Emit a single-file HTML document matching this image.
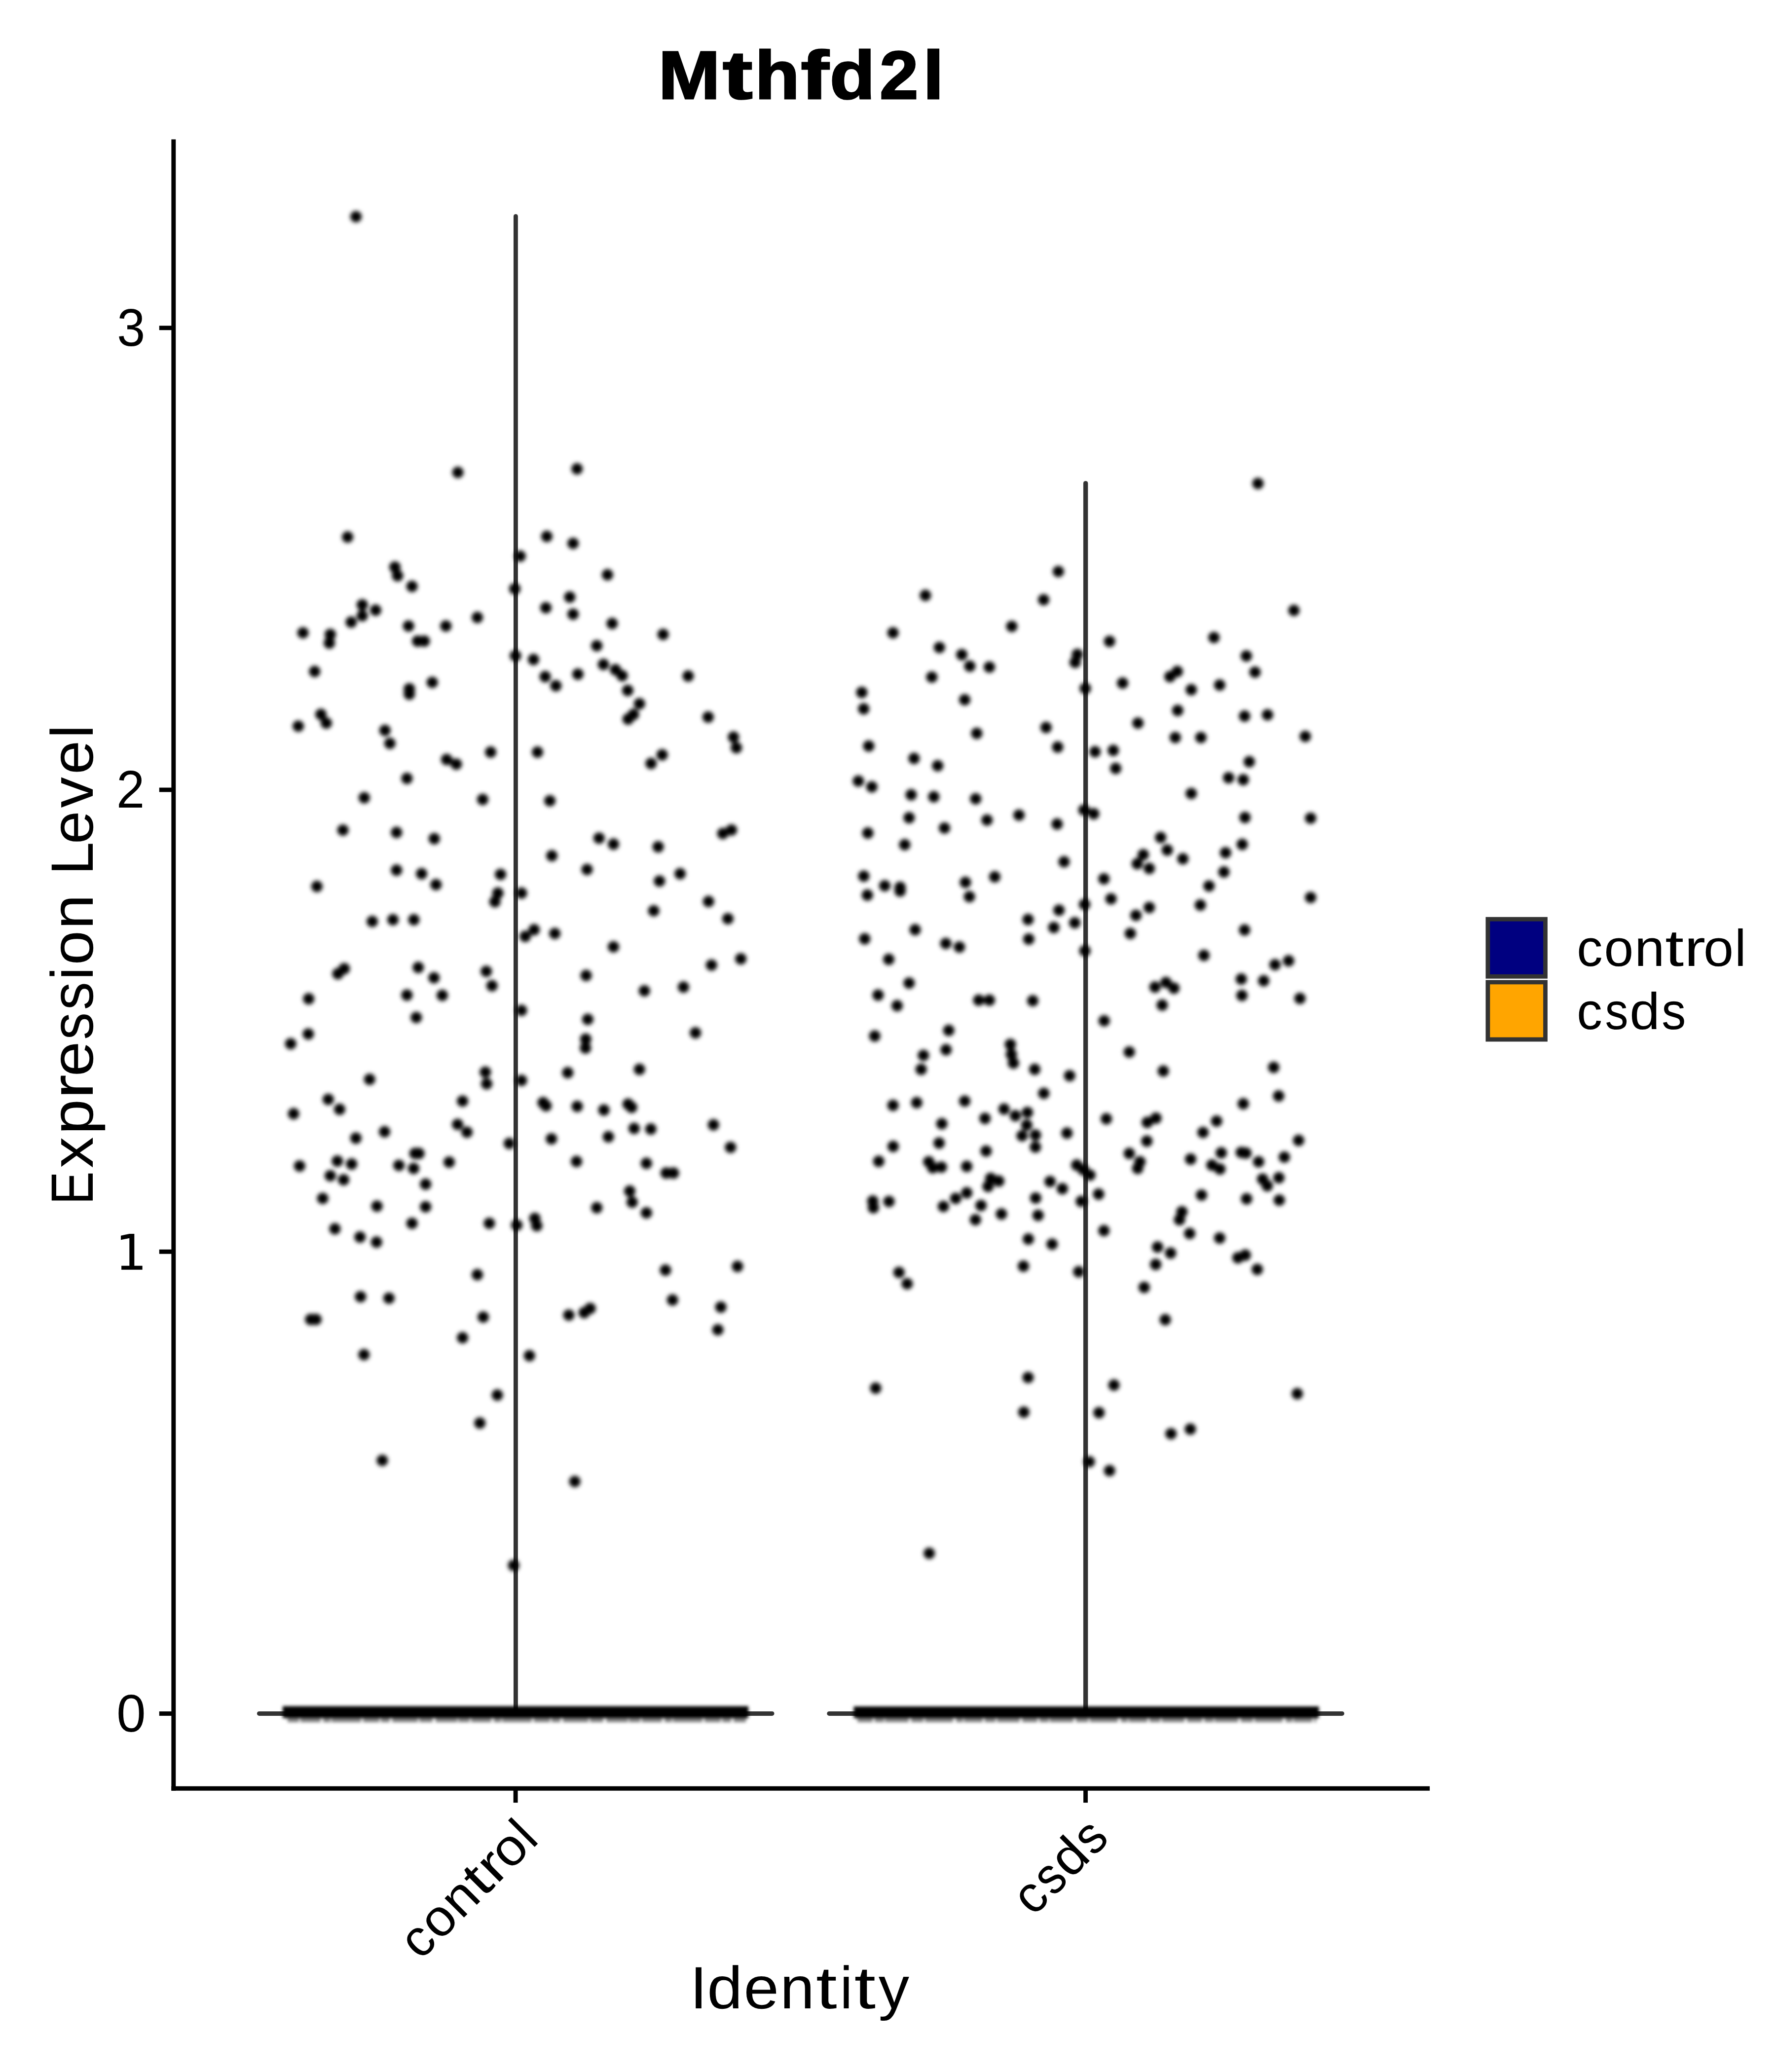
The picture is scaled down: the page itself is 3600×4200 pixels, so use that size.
<!DOCTYPE html>
<html><head><meta charset="utf-8"><title>Mthfd2l</title>
<style>
html,body{margin:0;padding:0;background:#fff;}
body{width:3600px;height:4200px;overflow:hidden;}
svg{display:block;}
text{font-family:"Liberation Sans",sans-serif;fill:#000;text-rendering:geometricPrecision;}
#title text{vector-effect:non-scaling-stroke;}
</style></head><body>
<svg width="3600" height="4200" viewBox="0 0 3600 4200">
<defs><filter id="b" filterUnits="userSpaceOnUse" x="0" y="0" width="3600" height="4200"><feGaussianBlur stdDeviation="4.2"/></filter>
<filter id="b2" filterUnits="userSpaceOnUse" x="0" y="3400" width="3600" height="150"><feGaussianBlur stdDeviation="3.0"/></filter></defs>
<rect width="3600" height="4200" fill="#fff"/>
<g id="title" font-size="138" font-weight="bold" stroke="#000" stroke-width="3"><text transform="translate(1334.53,199.5) scale(1.0913,1)">M</text><text transform="translate(1465.08,199.5) scale(1.3173,1)">t</text><text transform="translate(1530.15,199.5) scale(1.0741,1)">h</text><text transform="translate(1623.60,199.5) scale(1.2310,1)">f</text><text transform="translate(1682.05,199.5) scale(1.0872,1)">d</text><text transform="translate(1783.01,199.5) scale(1.0220,1)">2</text><text transform="translate(1870.91,199.5) scale(1.0985,1)">l</text></g>
<g fill="none" stroke="#333333" stroke-linecap="round" stroke-linejoin="round">
<path d="M525.4 3473.4H1565" stroke-width="9"/><path d="M1045.4 3473.4V438.4" stroke-width="8.9"/>
<path d="M1680.8 3473.4H2720.4" stroke-width="9"/><path d="M2200.6 3473.4V979.6" stroke-width="9.4"/>
</g>
<g filter="url(#b2)" fill="#000">
<rect x="573" y="3458.5" width="944" height="24"/>
<rect x="1730.5" y="3459" width="943" height="23.5"/>
<path d="M583 3487H1512" stroke="#000" stroke-opacity=".5" stroke-width="8" fill="none" stroke-dasharray="23 3 41 5 15 2 60 4 33 3 18 5 52 3 27 6 44 2"/>
<path d="M1738 3487H2668" stroke="#000" stroke-opacity=".5" stroke-width="8" fill="none" stroke-dasharray="31 4 19 2 48 5 25 3 57 6 14 2 38 4 22 3 46 5"/>
</g>
<g id="dots" filter="url(#b)" fill="#000">
<circle cx="721.6" cy="439.2" r="11.5"/><circle cx="928.1" cy="957.6" r="11.5"/><circle cx="704.6" cy="1088.6" r="11.5"/><circle cx="800.5" cy="1149.5" r="11.5"/><circle cx="805.9" cy="1167" r="11.5"/><circle cx="835.1" cy="1188.6" r="11.5"/><circle cx="734.3" cy="1225.9" r="11.5"/><circle cx="734.3" cy="1248.1" r="11.5"/>
<circle cx="761.4" cy="1236.8" r="11.5"/><circle cx="711.9" cy="1261.1" r="11.5"/><circle cx="614.1" cy="1282.7" r="11.5"/><circle cx="669.5" cy="1285.9" r="11.5"/><circle cx="667.6" cy="1303.5" r="11.5"/><circle cx="828.1" cy="1268.9" r="11.5"/><circle cx="903.8" cy="1268.9" r="11.5"/><circle cx="967.6" cy="1251.6" r="11.5"/>
<circle cx="846.5" cy="1299.5" r="11.5"/><circle cx="860" cy="1299.5" r="11.5"/><circle cx="637.8" cy="1361.1" r="11.5"/><circle cx="876.2" cy="1383.2" r="11.5"/><circle cx="829.7" cy="1396.2" r="11.5"/><circle cx="829.7" cy="1407" r="11.5"/><circle cx="650.5" cy="1448.1" r="11.5"/><circle cx="661.4" cy="1465.7" r="11.5"/>
<circle cx="604.6" cy="1471.9" r="11.5"/><circle cx="780.3" cy="1480.5" r="11.5"/><circle cx="1169.7" cy="950.3" r="11.5"/><circle cx="1108.4" cy="1087.3" r="11.5"/><circle cx="1161.6" cy="1101.4" r="11.5"/><circle cx="1054.3" cy="1127.3" r="11.5"/><circle cx="1231.4" cy="1165.1" r="11.5"/><circle cx="1043.5" cy="1193.5" r="11.5"/>
<circle cx="1154.9" cy="1210.3" r="11.5"/><circle cx="1106.5" cy="1231.9" r="11.5"/><circle cx="1161.6" cy="1244.9" r="11.5"/><circle cx="1240.8" cy="1263.8" r="11.5"/><circle cx="1344.1" cy="1285.9" r="11.5"/><circle cx="1209.7" cy="1308.9" r="11.5"/><circle cx="1044.9" cy="1329.2" r="11.5"/><circle cx="1081.4" cy="1336.8" r="11.5"/>
<circle cx="1223.2" cy="1346.8" r="11.5"/><circle cx="1247.6" cy="1357.6" r="11.5"/><circle cx="1261.1" cy="1369.7" r="11.5"/><circle cx="1171.4" cy="1366.5" r="11.5"/><circle cx="1105.1" cy="1371.6" r="11.5"/><circle cx="1126.8" cy="1390" r="11.5"/><circle cx="1394.9" cy="1370.3" r="11.5"/><circle cx="1272.4" cy="1399.5" r="11.5"/>
<circle cx="1296.2" cy="1426.5" r="11.5"/><circle cx="1284.1" cy="1448.1" r="11.5"/><circle cx="1273.2" cy="1457.6" r="11.5"/><circle cx="1435.4" cy="1453.5" r="11.5"/><circle cx="1486.8" cy="1494.1" r="11.5"/><circle cx="790.3" cy="1506.8" r="11.5"/><circle cx="994.6" cy="1524.6" r="11.5"/><circle cx="905.4" cy="1539.5" r="11.5"/>
<circle cx="924.9" cy="1548.9" r="11.5"/><circle cx="824.9" cy="1577.8" r="11.5"/><circle cx="738.4" cy="1617" r="11.5"/><circle cx="978.4" cy="1620.5" r="11.5"/><circle cx="695.1" cy="1682.7" r="11.5"/><circle cx="803.8" cy="1687.3" r="11.5"/><circle cx="880.3" cy="1700" r="11.5"/><circle cx="803.8" cy="1763.8" r="11.5"/>
<circle cx="854.6" cy="1771.1" r="11.5"/><circle cx="883.8" cy="1793.2" r="11.5"/><circle cx="1014.6" cy="1772.4" r="11.5"/><circle cx="642.4" cy="1796.8" r="11.5"/><circle cx="1009.2" cy="1810.3" r="11.5"/><circle cx="1003.2" cy="1827.8" r="11.5"/><circle cx="754.6" cy="1867.8" r="11.5"/><circle cx="796.5" cy="1864.3" r="11.5"/>
<circle cx="838.9" cy="1864.3" r="11.5"/><circle cx="697.8" cy="1963.5" r="11.5"/><circle cx="684.9" cy="1973.8" r="11.5"/><circle cx="847.8" cy="1961.1" r="11.5"/><circle cx="879.7" cy="1981.9" r="11.5"/><circle cx="985.7" cy="1968.9" r="11.5"/><circle cx="997.3" cy="1998.1" r="11.5"/><circle cx="824.9" cy="2017" r="11.5"/>
<circle cx="896.5" cy="2017.6" r="11.5"/><circle cx="625.7" cy="2024.6" r="11.5"/><circle cx="1492.7" cy="1515.7" r="11.5"/><circle cx="1089.5" cy="1524.6" r="11.5"/><circle cx="1342.2" cy="1530" r="11.5"/><circle cx="1319.7" cy="1547.6" r="11.5"/><circle cx="1114.6" cy="1623.2" r="11.5"/><circle cx="1482.7" cy="1682.4" r="11.5"/>
<circle cx="1465.1" cy="1689.5" r="11.5"/><circle cx="1214.3" cy="1698.9" r="11.5"/><circle cx="1243.5" cy="1711.1" r="11.5"/><circle cx="1334.1" cy="1716.5" r="11.5"/><circle cx="1118.6" cy="1734.6" r="11.5"/><circle cx="1190" cy="1762.4" r="11.5"/><circle cx="1378.6" cy="1771.1" r="11.5"/><circle cx="1336.8" cy="1785.9" r="11.5"/>
<circle cx="1057" cy="1810.3" r="11.5"/><circle cx="1436.2" cy="1827.3" r="11.5"/><circle cx="1325.1" cy="1846.2" r="11.5"/><circle cx="1475.4" cy="1862.2" r="11.5"/><circle cx="1082.7" cy="1884.6" r="11.5"/><circle cx="1064.6" cy="1898.1" r="11.5"/><circle cx="1124.6" cy="1892.2" r="11.5"/><circle cx="1243.5" cy="1919.2" r="11.5"/>
<circle cx="1501.6" cy="1943.5" r="11.5"/><circle cx="1442.2" cy="1956.2" r="11.5"/><circle cx="1188.1" cy="1977.3" r="11.5"/><circle cx="1385.4" cy="2000.8" r="11.5"/><circle cx="1306.2" cy="2008.4" r="11.5"/><circle cx="843.8" cy="2062.4" r="11.5"/><circle cx="624.9" cy="2095.9" r="11.5"/><circle cx="589.2" cy="2115.7" r="11.5"/>
<circle cx="983.8" cy="2173.2" r="11.5"/><circle cx="986.5" cy="2196.8" r="11.5"/><circle cx="749.2" cy="2187.8" r="11.5"/><circle cx="665.4" cy="2228.4" r="11.5"/><circle cx="688.4" cy="2248.6" r="11.5"/><circle cx="937.6" cy="2231.9" r="11.5"/><circle cx="595.1" cy="2257.6" r="11.5"/><circle cx="927.6" cy="2279.2" r="11.5"/>
<circle cx="946.5" cy="2294.9" r="11.5"/><circle cx="779.5" cy="2294.1" r="11.5"/><circle cx="721.4" cy="2307" r="11.5"/><circle cx="1032.4" cy="2317.8" r="11.5"/><circle cx="841.1" cy="2338.1" r="11.5"/><circle cx="849.2" cy="2338.1" r="11.5"/><circle cx="910.5" cy="2355.7" r="11.5"/><circle cx="683.8" cy="2353.5" r="11.5"/>
<circle cx="712.7" cy="2359.5" r="11.5"/><circle cx="607.3" cy="2363.5" r="11.5"/><circle cx="808.6" cy="2362.2" r="11.5"/><circle cx="838.4" cy="2368.4" r="11.5"/><circle cx="669.5" cy="2383.2" r="11.5"/><circle cx="696.5" cy="2391.4" r="11.5"/><circle cx="862.7" cy="2400.3" r="11.5"/><circle cx="654.1" cy="2429.2" r="11.5"/>
<circle cx="764.1" cy="2444.9" r="11.5"/><circle cx="862.7" cy="2446.2" r="11.5"/><circle cx="835.1" cy="2479.7" r="11.5"/><circle cx="991.9" cy="2479.7" r="11.5"/><circle cx="678.9" cy="2490.8" r="11.5"/><circle cx="729.7" cy="2507.6" r="11.5"/><circle cx="763.2" cy="2517.8" r="11.5"/><circle cx="967.6" cy="2583.8" r="11.5"/>
<circle cx="1057" cy="2048.1" r="11.5"/><circle cx="1191.4" cy="2066.2" r="11.5"/><circle cx="1409.7" cy="2093.5" r="11.5"/><circle cx="1187.3" cy="2106.2" r="11.5"/><circle cx="1186.8" cy="2124.3" r="11.5"/><circle cx="1296.2" cy="2167.6" r="11.5"/><circle cx="1150.8" cy="2174.3" r="11.5"/><circle cx="1057" cy="2190" r="11.5"/>
<circle cx="1100.8" cy="2235.1" r="11.5"/><circle cx="1106.8" cy="2241.4" r="11.5"/><circle cx="1170" cy="2242.7" r="11.5"/><circle cx="1224.1" cy="2250" r="11.5"/><circle cx="1273.2" cy="2238.1" r="11.5"/><circle cx="1280.3" cy="2244.6" r="11.5"/><circle cx="1285.4" cy="2287.3" r="11.5"/><circle cx="1319.2" cy="2288.6" r="11.5"/>
<circle cx="1446.2" cy="2280" r="11.5"/><circle cx="1117.8" cy="2308.4" r="11.5"/><circle cx="1233.2" cy="2304.3" r="11.5"/><circle cx="1480.8" cy="2325.7" r="11.5"/><circle cx="1168.6" cy="2354.3" r="11.5"/><circle cx="1310.3" cy="2358.1" r="11.5"/><circle cx="1350.3" cy="2377.8" r="11.5"/><circle cx="1365.1" cy="2377.8" r="11.5"/>
<circle cx="1276.5" cy="2414.3" r="11.5"/><circle cx="1281.4" cy="2436.8" r="11.5"/><circle cx="1209.7" cy="2448.1" r="11.5"/><circle cx="1310.3" cy="2458.4" r="11.5"/><circle cx="1084.1" cy="2469.7" r="11.5"/><circle cx="1088.1" cy="2484.6" r="11.5"/><circle cx="1047.6" cy="2483.2" r="11.5"/><circle cx="1348.9" cy="2574.6" r="11.5"/>
<circle cx="1494.9" cy="2567" r="11.5"/><circle cx="730.8" cy="2628.4" r="11.5"/><circle cx="788.4" cy="2631.4" r="11.5"/><circle cx="629.7" cy="2674.6" r="11.5"/><circle cx="640.5" cy="2674.6" r="11.5"/><circle cx="979.5" cy="2669.7" r="11.5"/><circle cx="937.6" cy="2711.6" r="11.5"/><circle cx="737.8" cy="2745.9" r="11.5"/>
<circle cx="1008.1" cy="2827.8" r="11.5"/><circle cx="972.7" cy="2884.6" r="11.5"/><circle cx="774.9" cy="2960.3" r="11.5"/><circle cx="1363.2" cy="2635.1" r="11.5"/><circle cx="1461.1" cy="2649.5" r="11.5"/><circle cx="1153" cy="2665.7" r="11.5"/><circle cx="1196.2" cy="2652.2" r="11.5"/><circle cx="1184.1" cy="2660.8" r="11.5"/>
<circle cx="1455.1" cy="2695.4" r="11.5"/><circle cx="1073.2" cy="2748.1" r="11.5"/><circle cx="1165.1" cy="3003" r="11.5"/><circle cx="1041.1" cy="3173" r="11.5"/><circle cx="2145.3" cy="1158.4" r="11.5"/><circle cx="1875.8" cy="1206.8" r="11.5"/><circle cx="2115.5" cy="1215.7" r="11.5"/><circle cx="2050.9" cy="1269.7" r="11.5"/>
<circle cx="1810.1" cy="1282.7" r="11.5"/><circle cx="1904.2" cy="1312.4" r="11.5"/><circle cx="1949.6" cy="1327" r="11.5"/><circle cx="1965.8" cy="1350.3" r="11.5"/><circle cx="2005.5" cy="1352.2" r="11.5"/><circle cx="2183.9" cy="1326.5" r="11.5"/><circle cx="2179.3" cy="1342.7" r="11.5"/><circle cx="1888.8" cy="1372.4" r="11.5"/>
<circle cx="1746.9" cy="1403.5" r="11.5"/><circle cx="1955.5" cy="1418.4" r="11.5"/><circle cx="1750.7" cy="1436.8" r="11.5"/><circle cx="2120.4" cy="1474.6" r="11.5"/><circle cx="1979.9" cy="1486.5" r="11.5"/><circle cx="2549.9" cy="980" r="11.5"/><circle cx="2622.8" cy="1237.3" r="11.5"/><circle cx="2460.7" cy="1292.2" r="11.5"/>
<circle cx="2249.1" cy="1300" r="11.5"/><circle cx="2526.4" cy="1329.7" r="11.5"/><circle cx="2386.4" cy="1361.1" r="11.5"/><circle cx="2371.5" cy="1371.6" r="11.5"/><circle cx="2543.9" cy="1362.4" r="11.5"/><circle cx="2275.5" cy="1384.6" r="11.5"/><circle cx="2199.9" cy="1395.4" r="11.5"/><circle cx="2472.3" cy="1388.6" r="11.5"/>
<circle cx="2414.7" cy="1398.1" r="11.5"/><circle cx="2387.2" cy="1440" r="11.5"/><circle cx="2522.8" cy="1451.6" r="11.5"/><circle cx="2569.3" cy="1448.9" r="11.5"/><circle cx="2306.6" cy="1465.7" r="11.5"/><circle cx="1760.9" cy="1512.2" r="11.5"/><circle cx="2143.9" cy="1514.3" r="11.5"/><circle cx="1852.8" cy="1537.3" r="11.5"/>
<circle cx="1900.7" cy="1552.2" r="11.5"/><circle cx="1739.9" cy="1583.2" r="11.5"/><circle cx="1767.2" cy="1594.9" r="11.5"/><circle cx="1846.9" cy="1611.1" r="11.5"/><circle cx="1892.8" cy="1615.1" r="11.5"/><circle cx="1977.7" cy="1619.2" r="11.5"/><circle cx="1842.8" cy="1657.6" r="11.5"/><circle cx="2065.5" cy="1652.2" r="11.5"/>
<circle cx="2000.7" cy="1662.2" r="11.5"/><circle cx="2142.8" cy="1670.3" r="11.5"/><circle cx="1914.5" cy="1678.4" r="11.5"/><circle cx="1759.1" cy="1688.6" r="11.5"/><circle cx="1833.9" cy="1712.2" r="11.5"/><circle cx="2156.9" cy="1746.8" r="11.5"/><circle cx="1750.9" cy="1775.9" r="11.5"/><circle cx="2016.4" cy="1777.3" r="11.5"/>
<circle cx="1956.9" cy="1788.6" r="11.5"/><circle cx="1793.4" cy="1795.4" r="11.5"/><circle cx="1824.5" cy="1798.6" r="11.5"/><circle cx="1824.5" cy="1806.2" r="11.5"/><circle cx="1758.2" cy="1814.3" r="11.5"/><circle cx="1965" cy="1817.6" r="11.5"/><circle cx="2146.6" cy="1844.9" r="11.5"/><circle cx="2083.9" cy="1863.8" r="11.5"/>
<circle cx="2178.5" cy="1870.5" r="11.5"/><circle cx="2136.1" cy="1880" r="11.5"/><circle cx="1855" cy="1884.6" r="11.5"/><circle cx="1752.8" cy="1903" r="11.5"/><circle cx="2085.3" cy="1903.5" r="11.5"/><circle cx="1917.2" cy="1912.4" r="11.5"/><circle cx="1944.7" cy="1919.7" r="11.5"/><circle cx="1801.5" cy="1944.6" r="11.5"/>
<circle cx="1842.8" cy="1992.7" r="11.5"/><circle cx="1779.9" cy="2017" r="11.5"/><circle cx="1983.9" cy="2027.3" r="11.5"/><circle cx="2005.5" cy="2027.3" r="11.5"/><circle cx="2093.4" cy="2028.6" r="11.5"/><circle cx="1818.5" cy="2038.6" r="11.5"/><circle cx="2382.3" cy="1494.9" r="11.5"/><circle cx="2434.2" cy="1494.9" r="11.5"/>
<circle cx="2645.8" cy="1492.7" r="11.5"/><circle cx="2219.6" cy="1523.8" r="11.5"/><circle cx="2256.6" cy="1521.1" r="11.5"/><circle cx="2261.5" cy="1557.6" r="11.5"/><circle cx="2532.3" cy="1544.1" r="11.5"/><circle cx="2490.4" cy="1576.5" r="11.5"/><circle cx="2520.1" cy="1580.5" r="11.5"/><circle cx="2414.7" cy="1608.4" r="11.5"/>
<circle cx="2197.2" cy="1641.9" r="11.5"/><circle cx="2216.9" cy="1649.5" r="11.5"/><circle cx="2523.6" cy="1657" r="11.5"/><circle cx="2656.6" cy="1658.4" r="11.5"/><circle cx="2352.6" cy="1697.6" r="11.5"/><circle cx="2366.1" cy="1723" r="11.5"/><circle cx="2518" cy="1711.6" r="11.5"/><circle cx="2484.2" cy="1728.4" r="11.5"/>
<circle cx="2397.7" cy="1740.8" r="11.5"/><circle cx="2317.4" cy="1732.4" r="11.5"/><circle cx="2305.3" cy="1750.8" r="11.5"/><circle cx="2329.6" cy="1760.3" r="11.5"/><circle cx="2480.9" cy="1767.6" r="11.5"/><circle cx="2237.7" cy="1781.4" r="11.5"/><circle cx="2450.7" cy="1795.9" r="11.5"/><circle cx="2252" cy="1821.9" r="11.5"/>
<circle cx="2656.6" cy="1819.2" r="11.5"/><circle cx="2198.5" cy="1833.2" r="11.5"/><circle cx="2433.1" cy="1834.6" r="11.5"/><circle cx="2329.6" cy="1839.5" r="11.5"/><circle cx="2302.6" cy="1855.4" r="11.5"/><circle cx="2291.2" cy="1892.2" r="11.5"/><circle cx="2522.8" cy="1885.1" r="11.5"/><circle cx="2199.1" cy="1927.3" r="11.5"/>
<circle cx="2440.4" cy="1936.5" r="11.5"/><circle cx="2612" cy="1947.6" r="11.5"/><circle cx="2584.5" cy="1955.4" r="11.5"/><circle cx="2516.1" cy="1984.6" r="11.5"/><circle cx="2561.5" cy="1988.1" r="11.5"/><circle cx="2341.2" cy="2000.8" r="11.5"/><circle cx="2363.4" cy="1991.4" r="11.5"/><circle cx="2379.6" cy="2003" r="11.5"/>
<circle cx="2517.4" cy="2017.8" r="11.5"/><circle cx="2635" cy="2023.8" r="11.5"/><circle cx="2355.8" cy="2037.3" r="11.5"/><circle cx="1923.1" cy="2088.6" r="11.5"/><circle cx="1773.1" cy="2100" r="11.5"/><circle cx="1917.7" cy="2127.8" r="11.5"/><circle cx="1871.8" cy="2139.2" r="11.5"/><circle cx="1867.2" cy="2167.6" r="11.5"/>
<circle cx="2048" cy="2117" r="11.5"/><circle cx="2050.1" cy="2137.3" r="11.5"/><circle cx="2054.2" cy="2154.9" r="11.5"/><circle cx="2097.4" cy="2167.6" r="11.5"/><circle cx="2168.2" cy="2180.5" r="11.5"/><circle cx="2115.8" cy="2216.2" r="11.5"/><circle cx="1810.1" cy="2240.5" r="11.5"/><circle cx="1858.2" cy="2235.1" r="11.5"/>
<circle cx="1955.5" cy="2231.9" r="11.5"/><circle cx="2035.3" cy="2248.1" r="11.5"/><circle cx="2058.2" cy="2261.6" r="11.5"/><circle cx="2082.6" cy="2254.9" r="11.5"/><circle cx="1996.6" cy="2267" r="11.5"/><circle cx="1909.1" cy="2277.8" r="11.5"/><circle cx="2081.2" cy="2280.5" r="11.5"/><circle cx="2071.8" cy="2302.2" r="11.5"/>
<circle cx="2098.8" cy="2300.8" r="11.5"/><circle cx="2098.8" cy="2325.1" r="11.5"/><circle cx="2162.8" cy="2296.8" r="11.5"/><circle cx="1903.6" cy="2317" r="11.5"/><circle cx="1810.4" cy="2323.8" r="11.5"/><circle cx="1998.8" cy="2333.2" r="11.5"/><circle cx="1781.2" cy="2354.1" r="11.5"/><circle cx="1882.6" cy="2354.9" r="11.5"/>
<circle cx="1890.7" cy="2367" r="11.5"/><circle cx="1908.2" cy="2365.7" r="11.5"/><circle cx="1959.6" cy="2364.3" r="11.5"/><circle cx="2182.6" cy="2361.6" r="11.5"/><circle cx="2008.2" cy="2388.6" r="11.5"/><circle cx="2024.5" cy="2394.1" r="11.5"/><circle cx="2002.8" cy="2404.9" r="11.5"/><circle cx="2128.5" cy="2394.9" r="11.5"/>
<circle cx="2153.4" cy="2409.5" r="11.5"/><circle cx="1959.6" cy="2417.8" r="11.5"/><circle cx="1937.2" cy="2429.2" r="11.5"/><circle cx="2099.3" cy="2428.4" r="11.5"/><circle cx="1769.1" cy="2434.6" r="11.5"/><circle cx="1770.4" cy="2448.1" r="11.5"/><circle cx="1802" cy="2435.4" r="11.5"/><circle cx="1912.3" cy="2445.4" r="11.5"/>
<circle cx="1988.5" cy="2443.5" r="11.5"/><circle cx="2029.9" cy="2460.8" r="11.5"/><circle cx="2104.2" cy="2463.5" r="11.5"/><circle cx="1977.2" cy="2472.4" r="11.5"/><circle cx="2084.5" cy="2511.6" r="11.5"/><circle cx="2132.6" cy="2521.9" r="11.5"/><circle cx="2074.5" cy="2566.5" r="11.5"/><circle cx="2186.6" cy="2577.8" r="11.5"/>
<circle cx="1822.3" cy="2579.2" r="11.5"/><circle cx="2238.2" cy="2069.2" r="11.5"/><circle cx="2289.1" cy="2132.4" r="11.5"/><circle cx="2358" cy="2171.1" r="11.5"/><circle cx="2581.8" cy="2163.5" r="11.5"/><circle cx="2591.8" cy="2221.6" r="11.5"/><circle cx="2520.1" cy="2237.3" r="11.5"/><circle cx="2242.6" cy="2267.8" r="11.5"/>
<circle cx="2343.1" cy="2266.5" r="11.5"/><circle cx="2325.5" cy="2275.1" r="11.5"/><circle cx="2466.1" cy="2272.4" r="11.5"/><circle cx="2438.5" cy="2295.4" r="11.5"/><circle cx="2324.7" cy="2313" r="11.5"/><circle cx="2632.3" cy="2311.6" r="11.5"/><circle cx="2289.1" cy="2338.1" r="11.5"/><circle cx="2475.5" cy="2336.8" r="11.5"/>
<circle cx="2516.1" cy="2335.9" r="11.5"/><circle cx="2525.5" cy="2337.3" r="11.5"/><circle cx="2603.4" cy="2345.4" r="11.5"/><circle cx="2413.4" cy="2349.5" r="11.5"/><circle cx="2551.2" cy="2354.9" r="11.5"/><circle cx="2310.7" cy="2354.9" r="11.5"/><circle cx="2306.1" cy="2368.4" r="11.5"/><circle cx="2456.6" cy="2361.6" r="11.5"/>
<circle cx="2472.8" cy="2369.7" r="11.5"/><circle cx="2195.8" cy="2371.1" r="11.5"/><circle cx="2209.3" cy="2381.9" r="11.5"/><circle cx="2592.3" cy="2387.3" r="11.5"/><circle cx="2559.3" cy="2390" r="11.5"/><circle cx="2568.8" cy="2403.5" r="11.5"/><circle cx="2226.9" cy="2420.5" r="11.5"/><circle cx="2191.8" cy="2435.1" r="11.5"/>
<circle cx="2435.5" cy="2422.4" r="11.5"/><circle cx="2526.9" cy="2430" r="11.5"/><circle cx="2593.1" cy="2432.7" r="11.5"/><circle cx="2395.8" cy="2456.2" r="11.5"/><circle cx="2390.9" cy="2472.4" r="11.5"/><circle cx="2237.7" cy="2494.6" r="11.5"/><circle cx="2411.5" cy="2500.3" r="11.5"/><circle cx="2472.3" cy="2509.5" r="11.5"/>
<circle cx="2346.4" cy="2527.8" r="11.5"/><circle cx="2372.8" cy="2540" r="11.5"/><circle cx="2524.2" cy="2544.1" r="11.5"/><circle cx="2509.3" cy="2549.5" r="11.5"/><circle cx="2342.6" cy="2563" r="11.5"/><circle cx="2548.5" cy="2573" r="11.5"/><circle cx="1838.8" cy="2602.2" r="11.5"/><circle cx="2083.9" cy="2792.2" r="11.5"/>
<circle cx="1775" cy="2813.8" r="11.5"/><circle cx="2075.3" cy="2862.4" r="11.5"/><circle cx="2319.3" cy="2609.5" r="11.5"/><circle cx="2362" cy="2675.1" r="11.5"/><circle cx="2258" cy="2807.6" r="11.5"/><circle cx="2629.6" cy="2825.1" r="11.5"/><circle cx="2227.7" cy="2863.5" r="11.5"/><circle cx="2412.8" cy="2896.8" r="11.5"/>
<circle cx="2373.6" cy="2906.2" r="11.5"/><circle cx="2208" cy="2963" r="11.5"/><circle cx="2249.1" cy="2981.1" r="11.5"/><circle cx="1883.6" cy="3148.6" r="11.5"/>
</g>
<g fill="none" stroke="#000" stroke-width="8.9">
<path d="M351.8 282.6V3629.7"/>
<path d="M347.4 3625.3H2898.1"/>
<path d="M322.8 3473.5H351.8"/><path d="M322.8 2537.2H351.8"/><path d="M322.8 1601.0H351.8"/><path d="M322.8 664.7H351.8"/><path d="M1045.1 3625.3V3654.1"/><path d="M2200.5 3625.3V3654.1"/>
</g>
<g id="ylab" font-size="107.5"><text transform="translate(236.14,3510) scale(0.9905,1)">0</text><text transform="translate(236.03,1636.9) scale(0.9556,1)">2</text><text transform="translate(237.30,700.8) scale(0.9535,1)">3</text></g>
<path id="one" d="M245 2504.7L262.3 2501H272.3V2565.7H288.6V2573.8H246.1V2565.7H262.3V2509.7L245 2513.3Z" fill="#000"/>
<g id="xl1" font-size="105" transform="translate(1090.2,3737.2) rotate(-45)"><text transform="translate(-336.30,0) scale(0.9973,1)">c</text><text transform="translate(-281.11,0) scale(1.0226,1)">o</text><text transform="translate(-219.28,0) scale(1.0447,1)">n</text><text transform="translate(-157.36,0) scale(1.2978,1)">t</text><text transform="translate(-118.33,0) scale(1.2229,1)">r</text><text transform="translate(-79.51,0) scale(1.0448,1)">o</text><text transform="translate(-16.25,0) scale(0.9969,1)">l</text></g>
<g id="xl2" font-size="105" transform="translate(2248.6,3732.2) rotate(-45)"><text transform="translate(-217.44,0) scale(0.9841,1)">c</text><text transform="translate(-160.42,0) scale(0.8955,1)">s</text><text transform="translate(-110.43,0) scale(1.0504,1)">d</text><text transform="translate(-45.53,0) scale(0.9348,1)">s</text></g>
<g id="xt" font-size="121"><text transform="translate(1398.82,4070.8) scale(1.0279,1)">I</text><text transform="translate(1433.17,4070.8) scale(1.0696,1)">d</text><text transform="translate(1507.55,4070.8) scale(1.0603,1)">e</text><text transform="translate(1581.18,4070.8) scale(1.0350,1)">n</text><text transform="translate(1653.88,4070.8) scale(1.2686,1)">t</text><text transform="translate(1702.69,4070.8) scale(0.9403,1)">i</text><text transform="translate(1731.43,4070.8) scale(1.2945,1)">t</text><text transform="translate(1780.70,4070.8) scale(1.0289,1)">y</text></g>
<g id="yt" font-size="121" transform="translate(188,2433.6) rotate(-90)"><text transform="translate(-8.26,0) scale(0.8326,1)">E</text><text transform="translate(65.88,0) scale(1.0442,1)">x</text><text transform="translate(133.79,0) scale(1.0659,1)">p</text><text transform="translate(205.77,0) scale(1.2364,1)">r</text><text transform="translate(251.34,0) scale(1.0620,1)">e</text><text transform="translate(326.12,0) scale(0.9136,1)">s</text><text transform="translate(386.34,0) scale(0.9382,1)">s</text><text transform="translate(447.18,0) scale(0.9779,1)">i</text><text transform="translate(477.32,0) scale(1.0397,1)">o</text><text transform="translate(550.02,0) scale(1.0428,1)">n </text><text transform="translate(660.02,0) scale(0.9953,1)">L</text><text transform="translate(722.66,0) scale(1.0004,1)">e</text><text transform="translate(796.17,0) scale(1.0306,1)">v</text><text transform="translate(863.76,0) scale(1.0198,1)">e</text><text transform="translate(937.22,0) scale(1.0155,1)">l</text></g>
<rect x="3015.9" y="1863.2" width="116.6" height="116.1" fill="#000080" stroke="#333" stroke-width="8.8"/>
<rect x="3015.9" y="1990.9" width="116.6" height="116.1" fill="#FFA500" stroke="#333" stroke-width="8.8"/>
<g id="lg" font-size="105"><text transform="translate(3196.30,1958) scale(0.9973,1)">c</text><text transform="translate(3251.49,1958) scale(1.0226,1)">o</text><text transform="translate(3313.32,1958) scale(1.0447,1)">n</text><text transform="translate(3375.24,1958) scale(1.2978,1)">t</text><text transform="translate(3414.27,1958) scale(1.2229,1)">r</text><text transform="translate(3453.09,1958) scale(1.0448,1)">o</text><text transform="translate(3516.35,1958) scale(0.9969,1)">l</text><text transform="translate(3196.36,2086) scale(0.9841,1)">c</text><text transform="translate(3253.38,2086) scale(0.8955,1)">s</text><text transform="translate(3303.37,2086) scale(1.0504,1)">d</text><text transform="translate(3368.27,2086) scale(0.9348,1)">s</text></g>
</svg>
</body></html>
